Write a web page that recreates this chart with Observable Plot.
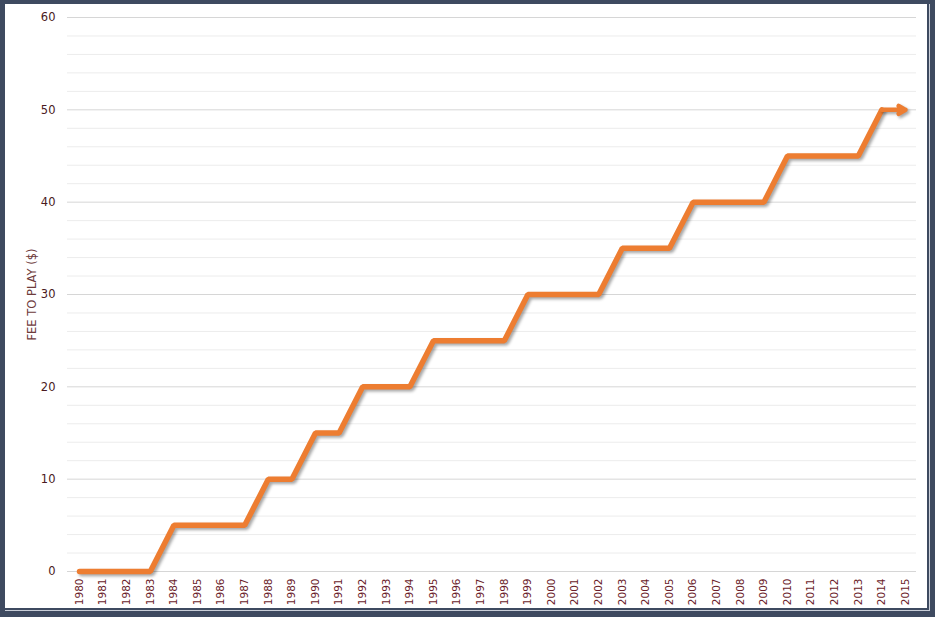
<!DOCTYPE html>
<html>
<head>
<meta charset="utf-8">
<script src="https://cdn.jsdelivr.net/npm/d3@7"></script>
<script src="https://cdn.jsdelivr.net/npm/@observablehq/plot@0.6"></script>
<style>
  body { margin: 0; background: #ffffff; }
  #frame { position: relative; width: 935px; height: 617px; background: #3e4a60; overflow: hidden; }
  #rim { position: absolute; left: 5px; top: 4px; width: 925px; height: 607px; background: #c9ced8; }
  #inner { position: absolute; left: 5px; top: 4px; width: 922px; height: 604px; background: #ffffff; border-right: 2px solid #3e4a60; border-bottom: 2px solid #3e4a60; box-sizing: content-box; }
  #chart { position: absolute; left: 0; top: 0; }
</style>
</head>
<body>
<div id="frame">
  <div id="rim"></div>
  <div id="inner"></div>
  <div id="chart"></div>
</div>
<script>
const years = d3.range(1980, 2016)
const fees = [0, 0, 0, 0, 5, 5, 5, 5, 10, 10, 15, 15, 20, 20, 20, 25, 25, 25, 25,
              30, 30, 30, 30, 35, 35, 35, 40, 40, 40, 40, 45, 45, 45, 45, 50, 50]
const yTicks = [0, 10, 20, 30, 40, 50, 60]
const yMinor = d3.range(0, 61, 2).filter(d => d % 10 !== 0)

const data = years.map((y, i) => ({year: y, fee: fees[i]}))
const last = [{x1: years[years.length - 2], y1: fees[fees.length - 2], x2: years[years.length - 1], y2: fees[fees.length - 1]}]

let chart = Plot.plot({
  width: 935,
  height: 617,
  marginLeft: 67,
  marginRight: 19,
  marginTop: 17,
  marginBottom: 46,
  insetLeft: 12,
  insetRight: 11,
  x: {domain: [1980, 2015]},
  y: {domain: [0, 60]},
  marks: [
    Plot.ruleY(yMinor, {stroke: "#ececec", strokeWidth: 1}),
    Plot.ruleY(yTicks, {stroke: "#d6d6d6", strokeWidth: 1}),
    Plot.axisY(yTicks, {
      tickSize: 0,
      tickPadding: 12,
      fontSize: 11.5,
      fill: "#4a1a22",
      label: null
    }),
    Plot.axisX(years, {
      tickSize: 0,
      tickPadding: 7,
      tickRotate: -90,
      tickFormat: d => String(d),
      fontSize: 10.5,
      fill: "#6b1c2a",
      label: null
    }),
    Plot.text(["FEE TO PLAY ($)"], {
      frameAnchor: "left",
      textAnchor: "middle",
      dx: -35,
      rotate: -90,
      fontSize: 11.5,
      fill: "#6e3b3b"
    }),
    Plot.line(data.slice(0, -1), {
      x: "year", y: "fee",
      stroke: "#ed7d31",
      strokeWidth: 5.5,
      strokeLinejoin: "miter",
      className: "fee-line"
    }),
    Plot.arrow(last, {
      x1: "x1", y1: "y1", x2: "x2", y2: "y2",
      stroke: "#ed7d31",
      strokeWidth: 4.5,
      headLength: 16,
      className: "fee-line"
    })
  ],
  style: {
    background: "transparent",
    color: "#4a1a22",
    fontFamily: "DejaVu Sans"
  }
})
d3.select(chart).selectAll(".fee-line path")
  .style("filter", "drop-shadow(2px 2px 1.5px rgba(0,0,0,0.35))")
d3.select('#chart').append(() => chart)
</script>
</body>
</html>
